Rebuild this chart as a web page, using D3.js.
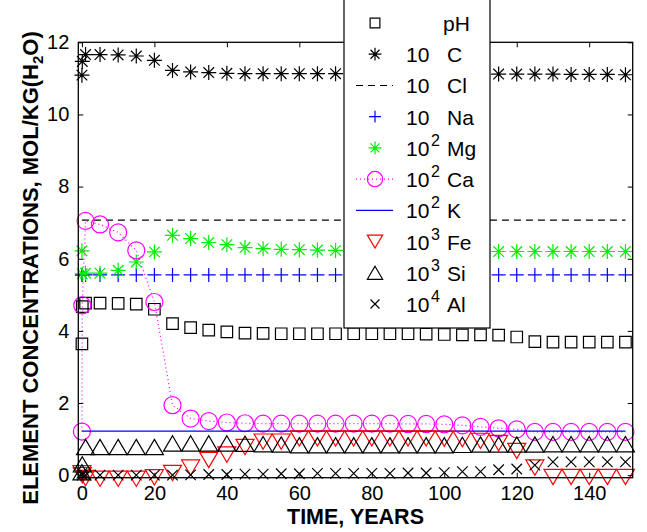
<!DOCTYPE html>
<html><head><meta charset="utf-8">
<script src="https://cdn.jsdelivr.net/npm/d3@7"></script>
<style>
html,body{margin:0;padding:0;background:#fff;}
svg{display:block;font-family:"Liberation Sans",Arial,sans-serif;}
</style></head>
<body>
<svg id="chart" width="647" height="532"></svg>
<script>
// ---------- data ----------
const times = [0,0.1,1,5,10,15,20,25,30,35,40,45,50,55,60,65,70,75,80,85,90,95,100,105,110,115,120,125,130,135,140,145,150];
const pH = [3.64,4.67,4.77,4.77,4.76,4.74,4.6,4.2,4.09,4.02,3.97,3.94,3.93,3.92,3.92,3.92,3.92,3.92,3.92,3.92,3.92,3.91,3.9,3.89,3.89,3.88,3.83,3.7,3.69,3.69,3.69,3.69,3.69];
const C  = [11.09,11.47,11.66,11.66,11.65,11.62,11.5,11.22,11.18,11.16,11.14,11.13,11.13,11.13,11.13,11.13,11.13,11.13,11.13,11.13,11.13,11.13,11.12,11.12,11.12,11.12,11.12,11.12,11.12,11.11,11.11,11.11,11.1];
const Cl = [7.07,7.07,7.07,7.07,7.07,7.07,7.07,7.07,7.07,7.07,7.07,7.07,7.07,7.07,7.07,7.07,7.07,7.07,7.07,7.07,7.07,7.07,7.07,7.07,7.07,7.07,7.07,7.07,7.07,7.07,7.07,7.07,7.07];
const Na = [5.55,5.55,5.55,5.55,5.55,5.55,5.55,5.55,5.55,5.55,5.55,5.55,5.55,5.55,5.55,5.55,5.55,5.55,5.55,5.55,5.55,5.55,5.55,5.55,5.55,5.55,5.55,5.55,5.55,5.55,5.55,5.55,5.55];
const Mg = [6.22,5.58,5.6,5.6,5.68,5.91,6.19,6.65,6.56,6.45,6.39,6.31,6.28,6.26,6.25,6.24,6.23,6.23,6.23,6.23,6.22,6.22,6.21,6.21,6.2,6.2,6.2,6.2,6.2,6.2,6.2,6.2,6.2];
const Ca = [1.21,4.71,7.05,6.95,6.73,6.23,4.8,1.94,1.57,1.5,1.46,1.44,1.43,1.43,1.43,1.43,1.43,1.43,1.43,1.43,1.42,1.42,1.41,1.38,1.34,1.3,1.27,1.2,1.2,1.2,1.2,1.2,1.2];
const K  = [1.22,1.22,1.22,1.22,1.22,1.22,1.22,1.22,1.22,1.22,1.22,1.22,1.22,1.22,1.22,1.22,1.22,1.22,1.22,1.22,1.22,1.22,1.22,1.22,1.22,1.22,1.22,1.22,1.22,1.22,1.22,1.22,1.22];
const Fe = [0.05,0.0,-0.08,-0.1,-0.1,-0.1,-0.06,0.06,0.21,0.42,0.57,0.78,0.93,0.93,1.02,1.02,1.02,1.02,1.02,1.02,1.02,1.02,1.01,1.0,0.95,0.89,0.67,0.21,-0.05,-0.05,-0.05,-0.05,-0.05];
const Si = [0.08,0.3,0.78,0.78,0.78,0.78,0.78,0.88,0.88,0.88,0.88,0.87,0.86,0.85,0.83,0.83,0.83,0.83,0.83,0.83,0.83,0.83,0.83,0.84,0.85,0.85,0.85,0.85,0.86,0.86,0.86,0.86,0.86];
const Al = [0.05,0.0,0.0,0.0,0.0,0.0,0.0,0.0,0.01,0.02,0.02,0.03,0.03,0.04,0.04,0.05,0.05,0.05,0.05,0.05,0.06,0.06,0.07,0.1,0.1,0.15,0.17,0.28,0.37,0.37,0.37,0.37,0.37];

const seriesNames = ["pH","C","Cl","Na","Mg","Ca","K","Fe","Si","Al"];
const seriesBase  = ["","10","10","10","10","10","10","10","10","10"];
const seriesExp   = ["","","","","2","2","2","3","3","4"];
const xTicks = [0,20,40,60,80,100,120,140];
const yTicks = [0,2,4,6,8,10,12];
const xLabel = "TIME, YEARS";
const yLabelMain = "ELEMENT CONCENTRATIONS, MOL/KG(H";
const yLabelSub = "2";
const yLabelEnd = "O)";

// ---------- layout ----------
const L = 78.3, R = 632.7, T = 42.3, B = 477.7;
const x = d3.scaleLinear().domain([-1, 152]).range([L, R]);
const y = d3.scaleLinear().domain([-0.07, 12]).range([B, T]);

const svg = d3.select("#chart");
const FONT = '"Liberation Sans",Arial,sans-serif';

// marker shapes
function markerPath(type, s) {
  const h = s/2;
  switch (type) {
    case "square": return `M${-h},${-h}H${h}V${h}H${-h}Z`;
    case "plus": return `M${-h},0H${h}M0,${-h}V${h}`;
    case "x": return `M${-h},${-h}L${h},${h}M${-h},${h}L${h},${-h}`;
    case "star": { const d = h*0.7071; return `M${-h},0H${h}M0,${-h}V${h}M${-d},${-d}L${d},${d}M${-d},${d}L${d},${-d}`; }
    case "tri-up": return `M0,${-h*0.85}L${h},${h*0.85}L${-h},${h*0.85}Z`;
    case "tri-down": return `M0,${h*0.85}L${h},${-h*0.85}L${-h},${-h*0.85}Z`;
    case "circle": return d3.arc()({innerRadius:0,outerRadius:h,startAngle:0,endAngle:2*Math.PI});
  }
  return "";
}

const styles = {
  pH: {values: pH, color: "#000", marker: "square", size: 11.5, line: null},
  C:  {values: C,  color: "#000", marker: "star", size: 15, line: null},
  Cl: {values: Cl, color: "#000", marker: null, line: "7,5"},
  Na: {values: Na, color: "#0000ff", marker: "plus", size: 14, line: null},
  Mg: {values: Mg, color: "#00ee00", marker: "star", size: 15, line: null},
  Ca: {values: Ca, color: "#ff00ff", marker: "circle", size: 17, line: "1,3"},
  K:  {values: K,  color: "#0000ff", marker: null, line: "solid"},
  Fe: {values: Fe, color: "#ff0000", marker: "tri-down", size: 18, line: null},
  Si: {values: Si, color: "#000", marker: "tri-up", size: 18, line: null},
  Al: {values: Al, color: "#000", marker: "x", size: 10.5, line: null}
};

// axes box (white)
svg.append("rect").attr("x", L).attr("y", T).attr("width", R-L).attr("height", B-T).attr("fill", "#fff");

const plot = svg.append("g");
seriesNames.forEach(name => {
  const st = styles[name];
  const pts = times.map((t,i) => [t, st.values[i]]);
  if (st.line) {
    const line = d3.line().x(d => x(d[0])).y(d => y(d[1]));
    plot.append("path").attr("d", line(pts)).attr("fill", "none")
      .attr("stroke", st.color).attr("stroke-width", name === "Ca" ? 1.2 : 1.1)
      .attr("stroke-dasharray", st.line === "solid" ? null : st.line);
  }
  if (st.marker) {
    const p = markerPath(st.marker, st.size);
    plot.append("g").selectAll("path").data(pts).join("path")
      .attr("transform", d => `translate(${x(d[0])},${y(d[1])})`)
      .attr("d", p).attr("fill", "none").attr("stroke", st.color).attr("stroke-width", 1.2);
  }
});

// axes frame and ticks
const axG = svg.append("g").attr("font-family", FONT).attr("font-size", 20);
const xb = d3.axisBottom(x).tickValues(xTicks).tickSize(-5).tickPadding(8).tickFormat(d3.format("d"));
const xt = d3.axisTop(x).tickValues(xTicks).tickSize(-5).tickFormat("");
const yl = d3.axisLeft(y).tickValues(yTicks).tickSize(-5).tickPadding(9).tickFormat(d3.format("d"));
const yr = d3.axisRight(y).tickValues(yTicks).tickSize(-5).tickFormat("");
function styleAxis(g) {
  g.select(".domain").remove();
  g.selectAll(".tick line").attr("stroke", "#000").attr("stroke-width", 1);
  g.selectAll(".tick text").attr("fill", "#000").attr("font-family", FONT).attr("font-size", 20);
}
axG.append("g").attr("transform", `translate(0,${B})`).call(xb).call(styleAxis);
axG.append("g").attr("transform", `translate(0,${T})`).call(xt).call(styleAxis);
axG.append("g").attr("transform", `translate(${L},0)`).call(yl).call(styleAxis);
axG.append("g").attr("transform", `translate(${R},0)`).call(yr).call(styleAxis);
svg.append("rect").attr("x", L).attr("y", T).attr("width", R-L).attr("height", B-T)
  .attr("fill", "none").attr("stroke", "#000").attr("stroke-width", 1.3);

// axis labels
svg.append("text").attr("x", (L+R)/2).attr("y", 524).attr("text-anchor", "middle")
  .attr("font-family", FONT).attr("font-weight", "bold").attr("font-size", 21.5).text(xLabel);
const yt = svg.append("text").attr("transform", "translate(38,268) rotate(-90)")
  .attr("text-anchor", "middle").attr("font-family", FONT).attr("font-weight", "bold").attr("font-size", 22);
yt.append("tspan").text(yLabelMain);
yt.append("tspan").attr("font-size", 15).attr("dy", 5).text(yLabelSub);
yt.append("tspan").attr("dy", -5).text(yLabelEnd);

// legend
const lg = svg.append("g").attr("font-family", FONT);
lg.append("rect").attr("x", 344).attr("y", -2).attr("width", 146).attr("height", 330)
  .attr("fill", "#fff").attr("stroke", "#000").attr("stroke-width", 1.2);
const rowY = d3.scaleLinear().domain([0, 9]).range([23, 304]);
seriesNames.forEach((name, i) => {
  const st = styles[name];
  const cy = rowY(i);
  const row = lg.append("g");
  if (st.line) {
    row.append("line").attr("x1", 356).attr("x2", 393).attr("y1", cy).attr("y2", cy)
      .attr("stroke", st.color).attr("stroke-width", st.line === "solid" ? 1.2 : 1.1)
      .attr("stroke-dasharray", st.line === "solid" ? null : st.line);
  }
  if (st.marker) {
    row.append("path").attr("transform", `translate(375,${cy})`)
      .attr("d", markerPath(st.marker, st.size * (st.marker === "circle" ? 0.9 : 0.85)))
      .attr("fill", "none").attr("stroke", st.color).attr("stroke-width", 1.2);
  }
  if (seriesBase[i]) {
    row.append("text").attr("x", 406).attr("y", cy + 8).attr("font-size", 21).text(seriesBase[i]);
  }
  if (seriesExp[i]) {
    row.append("text").attr("x", 431).attr("y", cy - 2).attr("font-size", 16).text(seriesExp[i]);
  }
  row.append("text").attr("x", name === "pH" ? 443 : 447).attr("y", cy + 8).attr("font-size", 21).text(name);
});
</script>
</body></html>
